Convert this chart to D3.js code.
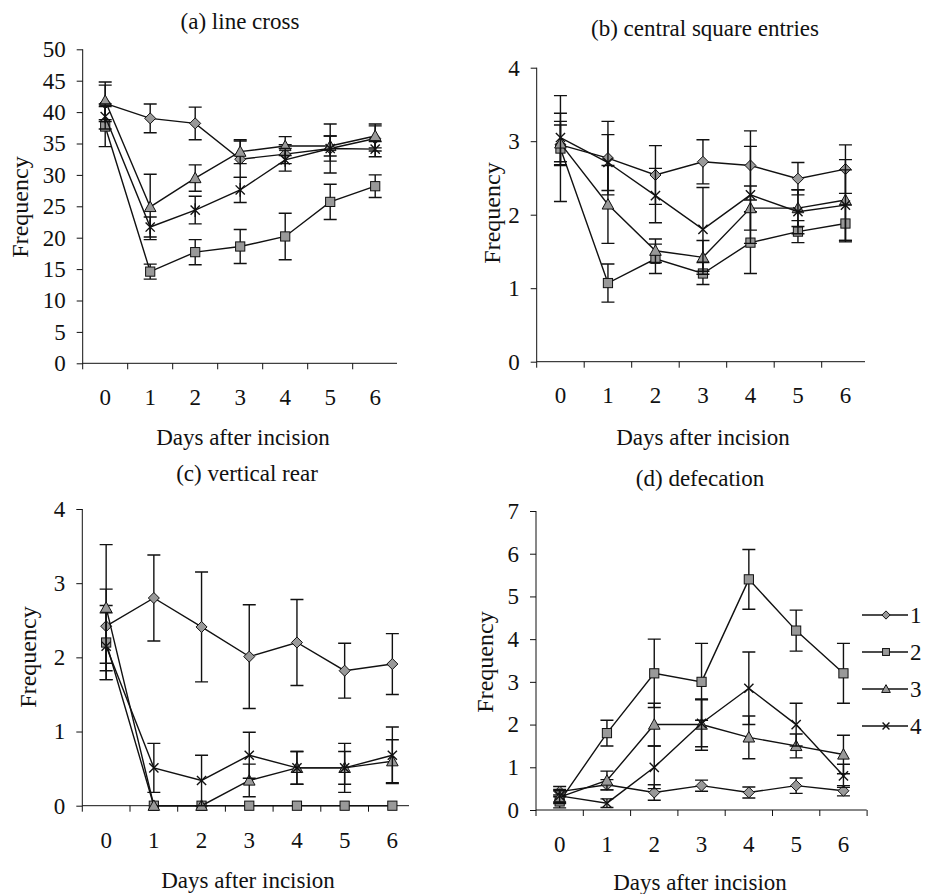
<!DOCTYPE html>
<html>
<head>
<meta charset="utf-8">
<script src="https://cdn.jsdelivr.net/npm/d3@7"></script>
<style>
  body { margin: 0; background: #fff; }
  svg text { font-family: "Liberation Serif", "Times New Roman", serif; fill: #111; }
</style>
</head>
<body>
<script>
const days = ["0", "1", "2", "3", "4", "5", "6"];
const groups = ["1", "2", "3", "4"];

// (a) line cross: mean and error per group
const lineCrossMean = [
  [41.4, 39.0, 38.2, 32.5, 33.3, 34.2, 35.8],
  [37.7, 14.6, 17.7, 18.6, 20.2, 25.7, 28.2],
  [41.8, 24.9, 29.5, 33.7, 34.6, 34.6, 36.2],
  [39.3, 21.7, 24.4, 27.6, 32.4, 34.2, 34.1]
];
const lineCrossErr = [
  [2.9, 2.3, 2.6, 2.9, 1.5, 2.0, 2.0],
  [3.2, 1.2, 2.0, 2.7, 3.7, 2.8, 1.8],
  [3.0, 5.2, 2.1, 1.9, 1.5, 1.6, 1.9],
  [2.0, 1.6, 2.2, 2.0, 1.8, 3.9, 1.2]
];

// (b) central square entries
const centralMean = [
  [2.95, 2.77, 2.54, 2.72, 2.67, 2.49, 2.62],
  [2.90, 1.07, 1.40, 1.20, 1.62, 1.77, 1.88],
  [2.97, 2.14, 1.51, 1.42, 2.09, 2.09, 2.20],
  [3.05, 2.71, 2.26, 1.80, 2.27, 2.04, 2.13]
];
const centralErr = [
  [0.27, 0.50, 0.40, 0.30, 0.47, 0.22, 0.33],
  [0.72, 0.26, 0.20, 0.15, 0.42, 0.15, 0.25],
  [0.30, 0.53, 0.16, 0.23, 0.30, 0.25, 0.55],
  [0.33, 0.38, 0.37, 0.57, 0.66, 0.30, 0.48]
];

// (c) vertical rear
const rearMean = [
  [2.42, 2.80, 2.41, 2.01, 2.20, 1.82, 1.91],
  [2.20, 0, 0, 0, 0, 0, 0],
  [2.67, 0, 0, 0.34, 0.51, 0.51, 0.60],
  [2.15, 0.51, 0.34, 0.68, 0.51, 0.51, 0.68]
];
const rearErr = [
  [0.50, 0.58, 0.74, 0.70, 0.58, 0.37, 0.41],
  [0.50, 0, 0, 0, 0, 0, 0],
  [0.85, 0, 0, 0.22, 0.22, 0.22, 0.29],
  [0.45, 0.33, 0.34, 0.31, 0.22, 0.33, 0.38]
];

// (d) defecation
const defecMean = [
  [0.43, 0.59, 0.41, 0.57, 0.41, 0.57, 0.45],
  [0.20, 1.80, 3.20, 3.00, 5.40, 4.20, 3.20],
  [0.30, 0.69, 2.00, 2.00, 1.70, 1.50, 1.30],
  [0.33, 0.16, 1.00, 2.03, 2.85, 2.00, 0.80]
];
const defecErr = [
  [0.12, 0.12, 0.18, 0.13, 0.13, 0.18, 0.12],
  [0.15, 0.30, 0.80, 0.90, 0.70, 0.48, 0.70],
  [0.15, 0.22, 0.50, 0.60, 0.50, 0.28, 0.45],
  [0.15, 0.10, 0.50, 0.55, 0.85, 0.50, 0.27]
];

const yTicksA = d3.range(0, 51, 5);
const yTicksB = [0, 1, 2, 3, 4];
const yTicksC = [0, 1, 2, 3, 4];
const yTicksD = [0, 1, 2, 3, 4, 5, 6, 7];

const panels = [
  { title: "(a) line cross", mean: lineCrossMean, err: lineCrossErr, ticks: yTicksA, ymax: 50,
    x0: 82.7, bw: 45, yb: 363.3, yt: 49.3, axisEnd: 397, endTick: false, star: true,
    tickY: 405, title_: [240, 29], ylab: [20, 207], xlab: [243, 445] },
  { title: "(b) central square entries", mean: centralMean, err: centralErr, ticks: yTicksB, ymax: 4,
    x0: 536.7, bw: 47.5, yb: 361.7, yt: 67.7, axisEnd: 865, endTick: false, star: false,
    tickY: 403, title_: [705, 36], ylab: [492, 213], xlab: [703, 445] },
  { title: "(c) vertical rear", mean: rearMean, err: rearErr, ticks: yTicksC, ymax: 4,
    x0: 82.3, bw: 47.7, yb: 805.7, yt: 509, axisEnd: 409, endTick: false, star: false,
    tickY: 848, title_: [247, 481], ylab: [28, 657], xlab: [248, 888] },
  { title: "(d) defecation", mean: defecMean, err: defecErr, ticks: yTicksD, ymax: 7,
    x0: 536, bw: 47.3, yb: 810, yt: 511, axisEnd: 866.7, endTick: true, star: false,
    tickY: 852, title_: [700, 486], ylab: [485, 662], xlab: [700, 890] }
];

const W = 927, H = 894;
const fill = "#999";
const fontSize = 23;

const svg = d3.select("body").append("svg")
  .attr("width", W).attr("height", H);

// marker paths centred on 0,0
function marker(g, i, star, s) {
  s = s || 1;
  if (i === 0) {
    const r = 5.5 * s;
    g.append("path").attr("d", `M0,${-r}L${r},0L0,${r}L${-r},0Z`)
      .attr("fill", fill).attr("stroke", "#111").attr("stroke-width", 1);
  } else if (i === 1) {
    const r = 4.6 * s;
    g.append("rect").attr("x", -r).attr("y", -r).attr("width", 2 * r).attr("height", 2 * r)
      .attr("fill", fill).attr("stroke", "#111").attr("stroke-width", 1);
  } else if (i === 2) {
    const r = 5.8 * s;
    g.append("path").attr("d", `M0,${-r}L${r},${r * 0.8}L${-r},${r * 0.8}Z`)
      .attr("fill", fill).attr("stroke", "#111").attr("stroke-width", 1);
  } else {
    const r = 4.6 * s;
    let d = `M${-r},${-r}L${r},${r}M${-r},${r}L${r},${-r}`;
    if (star) d += `M0,${-r * 1.5}L0,${r * 1.5}`;
    g.append("path").attr("d", d).attr("fill", "none")
      .attr("stroke", "#111").attr("stroke-width", 1.4);
  }
}

panels.forEach(p => {
  const x = d3.scaleBand().domain(days).range([p.x0, p.x0 + 7 * p.bw]);
  const y = d3.scaleLinear().domain([0, p.ymax]).range([p.yb, p.yt]);
  const cx = d => x(d) + x.bandwidth() / 2;
  const g = svg.append("g");

  // y axis
  const yAxis = g.append("g").attr("transform", `translate(${p.x0},0)`)
    .call(d3.axisLeft(y).tickValues(p.ticks).tickSize(6).tickFormat(""));
  yAxis.select(".domain").remove();
  yAxis.append("line").attr("x1", 0).attr("x2", 0).attr("y1", p.yt).attr("y2", p.yb + 6)
    .attr("stroke", "#111");
  yAxis.selectAll("line").attr("stroke", "#111");
  g.selectAll(".yl").data(p.ticks).enter().append("text")
    .attr("x", p.x0 - 17).attr("y", y).attr("dy", "0.34em").attr("text-anchor", "end")
    .attr("font-size", fontSize).text(d => d);

  // x axis
  g.append("line").attr("x1", p.x0).attr("x2", p.axisEnd).attr("y1", p.yb).attr("y2", p.yb)
    .attr("stroke", "#111");
  const nT = p.endTick ? 7 : 6;
  g.selectAll(".xt").data(d3.range(1, nT + 1)).enter().append("line")
    .attr("x1", k => p.x0 + k * x.step()).attr("x2", k => p.x0 + k * x.step())
    .attr("y1", p.yb).attr("y2", p.yb + 6).attr("stroke", "#111");
  g.selectAll(".xl").data(days).enter().append("text")
    .attr("x", cx).attr("y", p.tickY).attr("text-anchor", "middle")
    .attr("font-size", fontSize).text(d => d);

  // titles
  g.append("text").attr("x", p.title_[0]).attr("y", p.title_[1]).attr("text-anchor", "middle")
    .attr("font-size", fontSize).text(p.title);
  g.append("text").attr("transform", `translate(${p.ylab[0]},${p.ylab[1]}) rotate(-90)`)
    .attr("text-anchor", "middle").attr("dy", "0.35em").attr("font-size", 24).text("Frequency");
  g.append("text").attr("x", p.xlab[0]).attr("y", p.xlab[1]).attr("text-anchor", "middle")
    .attr("font-size", fontSize).text("Days after incision");

  const line = d3.line().x((v, j) => cx(days[j])).y(v => y(v));

  p.mean.forEach((vals, i) => {
    const s = g.append("g");
    s.append("path").attr("d", line(vals)).attr("fill", "none")
      .attr("stroke", "#111").attr("stroke-width", 1.4);
    vals.forEach((v, j) => {
      const e = p.err[i][j];
      if (e <= 0) return;
      const xx = cx(days[j]);
      s.append("path")
        .attr("d", `M${xx},${y(v + e)}L${xx},${y(v - e)}M${xx - 6.5},${y(v + e)}L${xx + 6.5},${y(v + e)}M${xx - 6.5},${y(v - e)}L${xx + 6.5},${y(v - e)}`)
        .attr("stroke", "#111").attr("stroke-width", 1.4).attr("fill", "none");
    });
    vals.forEach((v, j) => {
      const m = s.append("g").attr("transform", `translate(${cx(days[j])},${y(v)})`);
      marker(m, i, p.star);
    });
  });
});

// legend
const legY = d3.scalePoint().domain(groups).range([615, 726]);
const leg = svg.append("g");
groups.forEach((k, i) => {
  const yy = legY(k);
  leg.append("line").attr("x1", 862).attr("x2", 908).attr("y1", yy).attr("y2", yy)
    .attr("stroke", "#111").attr("stroke-width", 1.4);
  const m = leg.append("g").attr("transform", `translate(886,${yy})`);
  marker(m, i, false, 0.75);
  leg.append("text").attr("x", 910).attr("y", yy).attr("dy", "0.35em")
    .attr("font-size", fontSize).text(k);
});
</script>
</body>
</html>
